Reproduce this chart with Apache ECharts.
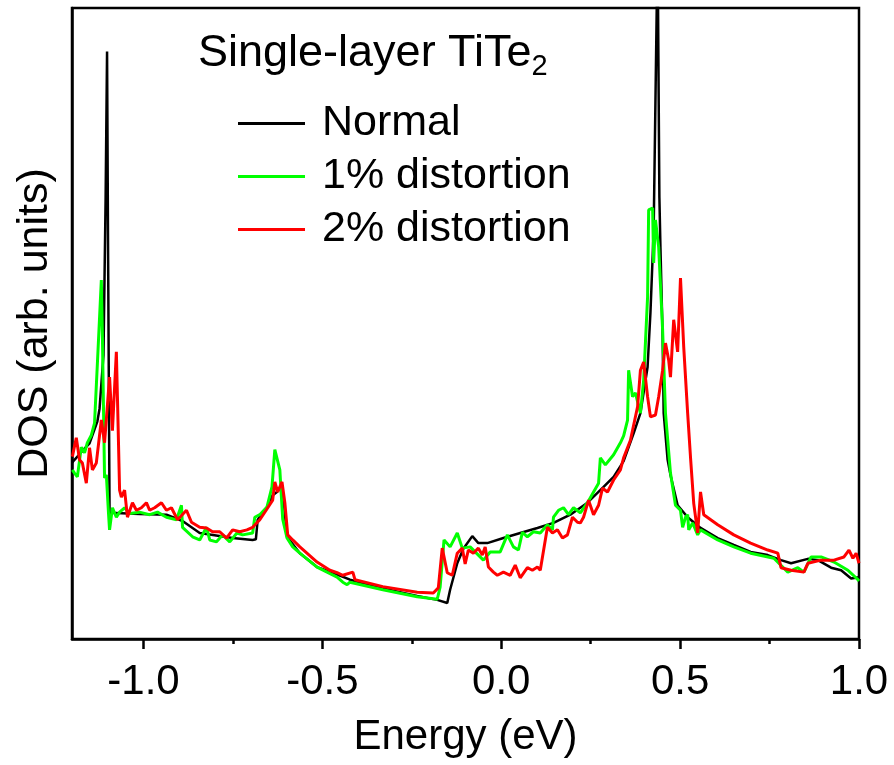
<!DOCTYPE html>
<html>
<head>
<meta charset="utf-8">
<script src="https://cdn.jsdelivr.net/npm/echarts@6/dist/echarts.min.js"></script>
<style>
  html, body { margin: 0; padding: 0; background: #fff; }
  #chart { width: 894px; height: 765px; }
</style>
</head>
<body>
<div id="chart"></div>
<script>
const seriesNames = ['Normal', '1% distortion', '2% distortion'];
const seriesColors = ['#000000', '#00ff00', '#ff0000'];
const majorTicks = [-1.0, -0.5, 0.0, 0.5, 1.0];
const minorTicks = [-0.75, -0.25, 0.25, 0.75];

// [energy (eV), DOS (arb. units)]
const normalDos = [
  [-1.199, 28.0], [-1.193, 28.4], [-1.171, 29.8], [-1.151, 31.0], [-1.129, 34.5], [-1.123, 36.5],
  [-1.112, 45.0], [-1.106, 70.0], [-1.102, 93.1], [-1.099, 60.0], [-1.095, 20.0], [-1.092, 19.7],
  [-1.011, 19.8], [-0.936, 19.7], [-0.891, 18.7], [-0.843, 16.8], [-0.751, 16.0], [-0.695, 15.7],
  [-0.686, 15.8], [-0.681, 18.9], [-0.655, 20.9], [-0.639, 22.8], [-0.627, 23.3], [-0.613, 24.4],
  [-0.605, 20.0], [-0.599, 16.2], [-0.563, 13.6], [-0.515, 11.4], [-0.471, 10.5], [-0.423, 9.4],
  [-0.331, 8.0], [-0.235, 6.8], [-0.179, 6.2], [-0.151, 5.7], [-0.143, 7.8], [-0.123, 12.0],
  [-0.106, 14.3], [-0.081, 16.3], [-0.064, 15.2], [-0.039, 15.2], [0.006, 16.0], [0.053, 16.8],
  [0.101, 17.6], [0.146, 18.4], [0.193, 19.7], [0.241, 21.6], [0.286, 24.1], [0.314, 25.7],
  [0.342, 28.2], [0.370, 32.6], [0.389, 35.8], [0.409, 43.1], [0.417, 51.7], [0.426, 64.8],
  [0.437, 110.0], [0.442, 70.0], [0.445, 62.0], [0.451, 48.0], [0.454, 35.8], [0.465, 28.4],
  [0.473, 26.0], [0.493, 21.2], [0.521, 19.3], [0.557, 17.6], [0.605, 16.0], [0.650, 14.9],
  [0.697, 13.8], [0.745, 13.3], [0.782, 12.5], [0.810, 12.0], [0.857, 12.7], [0.885, 12.5],
  [0.922, 11.3], [0.950, 10.9], [0.978, 9.6], [1.0, 9.8]
];

const dist1Dos = [
  [-1.199, 26.8], [-1.193, 26.3], [-1.185, 25.7], [-1.174, 30.4], [-1.165, 29.5], [-1.157, 31.1],
  [-1.146, 32.3], [-1.137, 34.2], [-1.129, 43.7], [-1.118, 56.9], [-1.115, 48.0], [-1.109, 25.5],
  [-1.104, 26.0], [-1.098, 20.0], [-1.095, 17.3], [-1.087, 20.8], [-1.076, 19.3], [-1.067, 20.1],
  [-1.053, 20.8], [-1.039, 19.9], [-1.011, 20.1], [-0.983, 19.7], [-0.961, 20.1], [-0.936, 19.3],
  [-0.908, 18.9], [-0.894, 21.2], [-0.891, 17.7], [-0.863, 16.2], [-0.843, 15.7], [-0.824, 17.7],
  [-0.815, 15.7], [-0.796, 15.4], [-0.779, 16.5], [-0.759, 15.4], [-0.739, 16.8], [-0.723, 16.5],
  [-0.695, 16.8], [-0.689, 19.3], [-0.675, 19.7], [-0.655, 20.9], [-0.641, 24.1], [-0.633, 30.0],
  [-0.630, 30.3], [-0.619, 26.8], [-0.611, 19.0], [-0.599, 16.0], [-0.583, 14.6], [-0.563, 13.6],
  [-0.515, 11.4], [-0.459, 9.8], [-0.443, 9.0], [-0.431, 8.6], [-0.423, 9.0], [-0.331, 7.8],
  [-0.235, 6.7], [-0.179, 6.3], [-0.171, 8.2], [-0.160, 15.7], [-0.143, 14.6], [-0.123, 16.8],
  [-0.109, 14.4], [-0.087, 14.6], [-0.050, 12.5], [-0.031, 13.8], [-0.003, 13.8], [0.017, 16.5],
  [0.034, 14.6], [0.048, 14.1], [0.059, 16.9], [0.073, 16.2], [0.090, 17.0], [0.109, 16.8],
  [0.129, 18.1], [0.143, 17.3], [0.146, 19.3], [0.160, 20.4], [0.174, 20.8], [0.188, 19.7],
  [0.202, 20.8], [0.221, 20.0], [0.241, 21.6], [0.258, 23.3], [0.272, 24.7], [0.277, 28.7],
  [0.291, 27.6], [0.314, 29.2], [0.333, 31.1], [0.342, 32.2], [0.353, 34.7], [0.356, 42.6],
  [0.367, 38.4], [0.375, 39.0], [0.389, 35.8], [0.398, 41.0], [0.409, 54.2], [0.412, 68.0],
  [0.423, 68.3], [0.426, 59.6], [0.431, 66.4], [0.440, 62.1], [0.451, 49.0], [0.459, 35.8],
  [0.473, 26.3], [0.487, 21.2], [0.501, 20.4], [0.507, 17.7], [0.515, 19.3], [0.521, 19.7],
  [0.524, 17.3], [0.535, 18.4], [0.549, 16.5], [0.557, 17.3], [0.605, 15.7], [0.650, 14.6],
  [0.697, 13.6], [0.762, 12.8], [0.801, 10.6], [0.829, 11.3], [0.846, 10.6], [0.866, 13.0],
  [0.894, 13.0], [0.930, 12.2], [0.969, 10.9], [0.997, 9.4], [1.0, 9.2]
];

const dist2Dos = [
  [-1.199, 28.9], [-1.188, 31.9], [-1.179, 28.4], [-1.171, 27.9], [-1.160, 24.7], [-1.151, 30.3],
  [-1.143, 26.8], [-1.132, 27.9], [-1.118, 34.7], [-1.109, 31.1], [-1.095, 41.5], [-1.087, 33.0],
  [-1.076, 45.5], [-1.073, 38.4], [-1.067, 23.6], [-1.062, 22.5], [-1.053, 23.6], [-1.045, 19.3],
  [-1.031, 21.6], [-1.020, 20.4], [-1.006, 20.8], [-0.992, 21.6], [-0.983, 20.4], [-0.969, 20.8],
  [-0.950, 21.6], [-0.936, 20.4], [-0.922, 20.8], [-0.905, 18.9], [-0.880, 20.4], [-0.866, 18.5],
  [-0.843, 17.7], [-0.824, 17.6], [-0.807, 17.0], [-0.787, 17.0], [-0.768, 16.0], [-0.751, 17.3],
  [-0.731, 17.0], [-0.711, 17.3], [-0.695, 17.7], [-0.675, 18.9], [-0.655, 20.6], [-0.639, 22.0],
  [-0.633, 24.9], [-0.625, 23.3], [-0.613, 24.9], [-0.605, 21.6], [-0.597, 16.5], [-0.583, 15.7],
  [-0.563, 14.6], [-0.515, 12.2], [-0.479, 10.9], [-0.459, 10.5], [-0.443, 10.1], [-0.415, 10.6],
  [-0.409, 9.4], [-0.331, 8.3], [-0.235, 7.4], [-0.190, 7.3], [-0.176, 8.1], [-0.165, 14.4],
  [-0.151, 10.5], [-0.137, 10.1], [-0.123, 13.6], [-0.109, 14.4], [-0.101, 11.9], [-0.092, 14.1],
  [-0.078, 13.6], [-0.064, 14.4], [-0.053, 13.3], [-0.045, 14.6], [-0.036, 11.4], [-0.022, 10.6],
  [-0.011, 10.1], [0.006, 10.6], [0.025, 10.1], [0.039, 11.7], [0.053, 9.7], [0.073, 11.3],
  [0.087, 10.9], [0.101, 11.4], [0.109, 10.9], [0.129, 17.7], [0.143, 16.8], [0.157, 17.3],
  [0.171, 16.0], [0.185, 16.5], [0.199, 19.3], [0.213, 18.5], [0.221, 18.4], [0.230, 19.3],
  [0.244, 22.0], [0.258, 19.7], [0.272, 21.2], [0.283, 23.9], [0.297, 23.3], [0.314, 25.2],
  [0.333, 26.8], [0.342, 28.7], [0.361, 31.5], [0.381, 36.8], [0.389, 42.6], [0.398, 43.9],
  [0.409, 38.4], [0.417, 35.2], [0.431, 35.5], [0.440, 38.4], [0.451, 42.6], [0.459, 46.9],
  [0.468, 44.2], [0.473, 41.5], [0.482, 50.6], [0.493, 45.5], [0.501, 57.2], [0.510, 46.3],
  [0.521, 35.8], [0.529, 28.8], [0.538, 21.5], [0.549, 16.8], [0.557, 23.3], [0.566, 19.7],
  [0.605, 18.1], [0.650, 16.5], [0.697, 15.2], [0.745, 14.1], [0.773, 13.6], [0.782, 11.3],
  [0.810, 10.9], [0.846, 10.6], [0.857, 12.0], [0.894, 12.5], [0.930, 12.5], [0.958, 13.0],
  [0.972, 14.1], [0.983, 12.8], [0.992, 13.6], [1.0, 12.0]
];

const FONT = '"Liberation Sans", Arial, sans-serif';
const allData = [normalDos, dist1Dos, dist2Dos];

const chart = echarts.init(document.getElementById('chart'), null, { renderer: 'canvas' });

const option = {
  animation: false,
  backgroundColor: '#fff',
  textStyle: { fontFamily: FONT, color: '#000' },
  title: {
    left: 198,
    top: 31,
    padding: 0,
    text: '{m|Single-layer TiTe}{s|2}',
    textStyle: {
      fontWeight: 'normal',
      rich: {
        m: { fontSize: 45, fontFamily: FONT, fontWeight: 'normal', color: '#000', lineHeight: 50, verticalAlign: 'top' },
        s: { fontSize: 29, fontFamily: FONT, fontWeight: 'normal', color: '#000', lineHeight: 12, verticalAlign: 'bottom' }
      }
    }
  },
  legend: {
    orient: 'vertical',
    left: 238,
    top: 97,
    padding: 0,
    itemGap: 0,
    itemWidth: 67,
    itemHeight: 3,
    icon: 'rect',
    data: seriesNames,
    textStyle: { fontSize: 43, fontFamily: FONT, color: '#000', lineHeight: 44, padding: [0, 0, 9, 12] }
  },
  grid: {
    left: 72, right: 35, top: 8, bottom: 126,
    show: true, borderColor: '#000', borderWidth: 2.5, backgroundColor: 'transparent'
  },
  xAxis: [
    {
      type: 'value', min: -1.2, max: 1.0,
      name: 'Energy (eV)', nameLocation: 'middle', nameGap: 77,
      nameTextStyle: { fontSize: 42, fontFamily: FONT, color: '#000' },
      axisLine: { show: true, onZero: false, lineStyle: { color: '#000', width: 2.5 } },
      axisTick: { show: true, customValues: majorTicks, length: 10, lineStyle: { color: '#000', width: 2.5 } },
      axisLabel: {
        customValues: majorTicks, margin: 22, fontSize: 42, fontFamily: FONT, color: '#000',
        formatter: v => v.toFixed(1)
      },
      splitLine: { show: false }
    },
    {
      type: 'value', min: -1.2, max: 1.0, position: 'bottom',
      axisLine: { show: false },
      axisTick: { show: true, customValues: minorTicks, length: 5, lineStyle: { color: '#000', width: 2.5 } },
      axisLabel: { show: false },
      splitLine: { show: false }
    }
  ],
  yAxis: {
    type: 'value', min: 0, max: 100,
    name: 'DOS (arb. units)', nameLocation: 'middle', nameGap: 15, nameRotate: 90,
    nameTextStyle: { fontSize: 43, fontFamily: FONT, color: '#000' },
    axisLine: { show: true, onZero: false, lineStyle: { color: '#000', width: 2.5 } },
    axisTick: { show: false },
    axisLabel: { show: false },
    splitLine: { show: false }
  },
  series: seriesNames.map((name, i) => ({
    name,
    type: 'line',
    xAxisIndex: 0,
    data: allData[i],
    showSymbol: false,
    symbol: 'none',
    clip: true,
    color: seriesColors[i],
    lineStyle: { color: seriesColors[i], width: i === 0 ? 2.5 : 3 },
    z: 2 + i
  }))
};

chart.setOption(option);
</script>
</body>
</html>
